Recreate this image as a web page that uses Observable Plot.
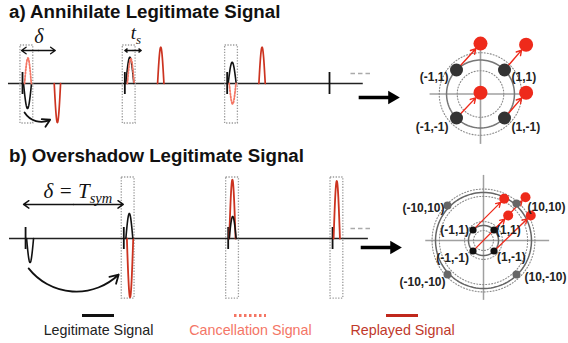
<!DOCTYPE html>
<html><head><meta charset="utf-8">
<script src="https://cdn.jsdelivr.net/npm/d3@7"></script>
<script src="https://cdn.jsdelivr.net/npm/@observablehq/plot@0.6"></script>
<style>
html,body{margin:0;padding:0;background:#fff;}
#root{position:relative;width:568px;height:343px;overflow:hidden;font-family:"Liberation Sans",Arial,Helvetica,sans-serif;}
.title{position:absolute;left:9px;font-weight:bold;font-size:18.7px;color:#111;white-space:nowrap;line-height:1;}
</style></head><body>
<div id="root">
<div class="title" style="top:2.5px">a) Annihilate Legitimate Signal</div>
<div class="title" style="top:146.5px">b) Overshadow Legitimate Signal</div>
</div>
<script>
// ---------------- data ----------------
const seriesNames = ["Legitimate Signal", "Cancellation Signal", "Replayed Signal"];

// a) Annihilate: symbol start times (in symbol periods) and half-sine pulse amplitudes
const symbolTimesA = [0, 1, 2, 3];
const legitPulsesA = [{t: 0.01, a: -1.0}, {t: 1.01, a: 1.05}, {t: 2.01, a: 0.85}];
const cancelPulsesA = [{t: 0.02, a: 1.02}, {t: 1.025, a: 1.0}, {t: 2.02, a: -0.82}];
const replayPulsesA = [{t: 0.31, a: -1.56}, {t: 1.32, a: 1.45}, {t: 2.31, a: 1.45}];
const boxedSymbolsA = [0, 1, 2];
const delayA = 0.32;      // δ
const symbolDurA = 0.16;  // t_s

// b) Overshadow
const symbolTimesB = [0.03, 0.99, 2.01, 3.03];
const legitPulsesB = [{t: 0.04, a: -0.98}, {t: 1.01, a: 1.02}, {t: 2.02, a: 0.9}];
const replayPulsesB = [{t: 1.02, a: -2.4}, {t: 2.02, a: 2.4}, {t: 3.04, a: 2.35}];
const boxedSymbolsB = [1, 2, 3];

// Constellations (I/Q as drawn, with their labels)
const legitPointsA = [
  {i: -1, q: 1, label: "(-1,1)"}, {i: 1, q: 1, label: "(1,1)"},
  {i: -1, q: -1, label: "(-1,-1)"}, {i: 1, q: -1, label: "(1,-1)"}
];
const replayPointsA = [{i: 0, q: 2.1}, {i: 1.9, q: 2.05}, {i: 0, q: 0.05}, {i: 1.9, q: 0.05}];
const legitPointsB = [
  {i: -1, q: 1, label: "(-1,1)"}, {i: 1, q: 1, label: "(1,1)"},
  {i: -1, q: -1, label: "(-1,-1)"}, {i: 1, q: -1, label: "(1,-1)"}
];
const highPointsB = [
  {i: -3.43, q: 3.33, label: "(-10,10)"}, {i: 3.14, q: 3.52, label: "(10,10)"},
  {i: -3.43, q: -3.24, label: "(-10,-10)"}, {i: 3.14, q: -3.24, label: "(10,-10)"}
];
const replayPointsB = [{i: 1.97, q: 3.97}, {i: 4.0, q: 4.12}, {i: 2.35, q: 2.38}, {i: 4.5, q: 2.38}];

// ---------------- styles ----------------
const C = {legit: "#111", cancel: "#f47563", replay: "#cc3320", box: "#9a9a9a",
           dotRed: "#ee2a1b", dotDark: "#333", grid: "#a0a0a0", ring: "#777"};
const legendStyle = {
  "Legitimate Signal": {stroke: "#111", dash: null, text: "#222"},
  "Cancellation Signal": {stroke: "#f47563", dash: "2.5,2.5", text: "#f47666"},
  "Replayed Signal": {stroke: "#c0281c", dash: null, text: "#c0392b"}
};
const SANS = "'Liberation Sans', Arial, Helvetica, sans-serif";
const SERIF = "'Liberation Serif', 'Times New Roman', serif";

// ---------------- helpers ----------------
const root = document.getElementById("root");
function render(opts) {
  const svg = Plot.plot({
    width: 568, height: 343, margin: 0,
    style: {background: "transparent", position: "absolute", left: "0px", top: "0px", overflow: "visible"},
    ...opts
  });
  root.appendChild(svg);
}
function pulsePoints(pulses, width, key) {
  return pulses.flatMap((p, j) => d3.range(25).map(k => ({
    id: key + j, t: p.t + width * k / 24, v: p.a * Math.sin(Math.PI * k / 24)
  })));
}
function circlePoints(radii, key) {
  return radii.flatMap((r, j) => d3.range(121).map(k => ({
    id: key + j, i: r * Math.cos(2 * Math.PI * k / 120), q: r * Math.sin(2 * Math.PI * k / 120)
  })));
}
function doubleArrow(t1, t2, v) {
  const m = (t1 + t2) / 2;
  return [
    Plot.arrow([{a: m, b: t1, v}], {x1: "a", x2: "b", y1: "v", y2: "v", stroke: "#111", strokeWidth: 1.4, headLength: 7, headAngle: 70}),
    Plot.arrow([{a: m, b: t2, v}], {x1: "a", x2: "b", y1: "v", y2: "v", stroke: "#111", strokeWidth: 1.4, headLength: 7, headAngle: 70})
  ];
}
function bigArrow(t1, t2, v) {
  return [
    Plot.ruleY([{v}], {y: "v", x1: () => t1, x2: () => t2 - 0.05, stroke: "#000", strokeWidth: 3.5}),
    Plot.dot([{t: t2, v}], {x: "t", y: "v", symbol: "triangle", rotate: 90, r: 5, fill: "#000", dx: -6})
  ];
}
function dashes(t1, t2, v) {
  return Plot.ruleY([{v}], {y: "v", x1: () => t1, x2: () => t2, stroke: "#aaa", strokeWidth: 1.6, strokeDasharray: "4.5,3"});
}
const waveX = {domain: [0, 3], range: [22, 329], axis: null};

// ---------------- a) waveform ----------------
render({
  x: waveX,
  y: {domain: [-1, 1], range: [108, 58], axis: null},
  marks: [
    Plot.ruleY([0], {x1: () => -0.137, x2: () => 3.33, stroke: "#222", strokeWidth: 1.3}),
    Plot.rect(boxedSymbolsA, {x1: k => symbolTimesA[k] - 0.02, x2: k => symbolTimesA[k] + 0.105,
      y1: () => -1.6, y2: () => 1.52, fill: "none", stroke: C.box, strokeWidth: 1.3, strokeDasharray: "1.3,1.5"}),
    Plot.ruleX(symbolTimesA, {x: d => d, y1: () => -0.44, y2: () => 0.44, stroke: C.legit, strokeWidth: 1.8}),
    Plot.line(pulsePoints(legitPulsesA, 0.078, "l"), {x: "t", y: "v", z: "id", stroke: C.legit, strokeWidth: 1.6}),
    Plot.line(pulsePoints(cancelPulsesA, 0.066, "c"), {x: "t", y: "v", z: "id", stroke: C.cancel, strokeWidth: 1.8, strokeDasharray: "1.6,1.6"}),
    Plot.line(pulsePoints(replayPulsesA, 0.062, "r"), {x: "t", y: "v", z: "id", stroke: C.replay, strokeWidth: 1.7}),
    ...doubleArrow(symbolTimesA[0] - 0.01, symbolTimesA[0] + delayA, 1.32),
    ...doubleArrow(symbolTimesA[1], symbolTimesA[1] + symbolDurA, 1.32),
    Plot.text(["δ"], {x: () => symbolTimesA[0] + delayA / 2, y: () => 1.64, text: d => d, fontFamily: SERIF, fontStyle: "italic", fontSize: 20, lineAnchor: "bottom", fill: "#111"}),
    Plot.text(["t"], {x: () => symbolTimesA[1] + symbolDurA / 2, y: () => 1.8, text: d => d, fontFamily: SERIF, fontStyle: "italic", fontSize: 19, lineAnchor: "bottom", textAnchor: "end", dx: 3, fill: "#111"}),
    Plot.text(["s"], {x: () => symbolTimesA[1] + symbolDurA / 2, y: () => 1.8, text: d => d, fontFamily: SERIF, fontStyle: "italic", fontSize: 13, lineAnchor: "bottom", textAnchor: "start", dx: 3, dy: 5, fill: "#111"}),
    Plot.arrow([{t1: 0.02, v1: -1.16, t2: 0.27, v2: -1.45}], {x1: "t1", y1: "v1", x2: "t2", y2: "v2", bend: -42, stroke: "#111", strokeWidth: 1.8, headLength: 7}),
    dashes(3.21, 3.42, 0.4),
    ...bigArrow(3.29, 3.67, -0.56)
  ]
});

// ---------------- b) waveform ----------------
render({
  x: waveX,
  y: {domain: [-1, 1], range: [262.5, 213.5], axis: null},
  marks: [
    Plot.ruleY([0], {x1: () => -0.127, x2: () => 3.38, stroke: "#222", strokeWidth: 1.3}),
    Plot.rect(boxedSymbolsB, {x1: k => symbolTimesB[k] - 0.02, x2: k => symbolTimesB[k] + 0.105,
      y1: () => -2.45, y2: () => 2.49, fill: "none", stroke: C.box, strokeWidth: 1.3, strokeDasharray: "1.3,1.5"}),
    Plot.ruleX(symbolTimesB, {x: d => d, y1: () => -0.45, y2: () => 0.45, stroke: C.legit, strokeWidth: 1.8}),
    Plot.line(pulsePoints(replayPulsesB, 0.062, "r"), {x: "t", y: "v", z: "id", stroke: C.replay, strokeWidth: 1.8}),
    Plot.line(pulsePoints(legitPulsesB, 0.068, "l"), {x: "t", y: "v", z: "id", stroke: C.legit, strokeWidth: 1.6}),
    ...doubleArrow(symbolTimesB[0] - 0.02, symbolTimesB[1] - 0.005, 1.39),
    Plot.text(["δ = T"], {x: () => (symbolTimesB[0] + symbolTimesB[1]) / 2, y: () => 1.67, text: d => d, fontFamily: SERIF, fontStyle: "italic", fontSize: 21, lineAnchor: "bottom", textAnchor: "end", dx: 15, fill: "#111"}),
    Plot.text(["sym"], {x: () => (symbolTimesB[0] + symbolTimesB[1]) / 2, y: () => 1.67, text: d => d, fontFamily: SERIF, fontStyle: "italic", fontSize: 14.5, lineAnchor: "bottom", textAnchor: "start", dx: 15, dy: 5, fill: "#111"}),
    Plot.arrow([{t1: 0.06, v1: -1.22, t2: 0.94, v2: -1.47}], {x1: "t1", y1: "v1", x2: "t2", y2: "v2", bend: -48, stroke: "#111", strokeWidth: 1.8, headLength: 8}),
    dashes(3.21, 3.42, 0.41),
    ...bigArrow(3.31, 3.69, -0.37)
  ]
});

// ---------------- a) constellation ----------------
const labelOffA = {"(-1,1)": ["end", -8, 7.5], "(1,1)": ["start", 7, 7.5], "(-1,-1)": ["end", -8, 9.5], "(1,-1)": ["start", 7, 9.5]};
render({
  x: {domain: [-1, 1], range: [456, 504], axis: null},
  y: {domain: [-1, 1], range: [117.5, 69.5], axis: null},
  marks: [
    Plot.ruleY([0], {x1: () => -2.1, x2: () => 2.2, stroke: C.grid, strokeWidth: 1.6}),
    Plot.ruleX([0], {y1: () => -2.1, y2: () => 2.12, stroke: C.grid, strokeWidth: 1.6}),
    Plot.line(circlePoints([0.97, 1.72], "d"), {x: "i", y: "q", z: "id", stroke: "#888", strokeWidth: 1.1, strokeDasharray: "1,2"}),
    Plot.line(circlePoints([Math.SQRT2], "s"), {x: "i", y: "q", z: "id", stroke: C.ring, strokeWidth: 1.5}),
    Plot.arrow(legitPointsA.map((p, k) => ({...p, i2: replayPointsA[k].i, q2: replayPointsA[k].q})),
      {x1: "i", y1: "q", x2: "i2", y2: "q2", stroke: C.dotRed, strokeWidth: 1.4, headLength: 6, insetStart: 6, insetEnd: 7}),
    Plot.dot(legitPointsA, {x: "i", y: "q", r: 6.5, fill: C.dotDark}),
    Plot.dot(replayPointsA, {x: "i", y: "q", r: 7, fill: C.dotRed}),
    ...legitPointsA.map(p => Plot.text([p], {x: "i", y: "q", text: "label", textAnchor: labelOffA[p.label][0],
      dx: labelOffA[p.label][1], dy: labelOffA[p.label][2], fontFamily: SANS, fontWeight: "bold", fontSize: 12, fill: "#222"}))
  ]
});

// ---------------- b) constellation ----------------
const labelOffB = {
  "(-10,10)": ["end", -3, 3], "(10,10)": ["start", 11, 4], "(-1,1)": ["end", -4, 0], "(1,1)": ["start", 2, 0],
  "(-1,-1)": ["end", -4, 7], "(1,-1)": ["start", 3, 6], "(-10,-10)": ["end", -2, 8], "(10,-10)": ["start", 8, 3]
};
render({
  x: {domain: [-1, 1], range: [472.5, 493.5], axis: null},
  y: {domain: [-1, 1], range: [250.5, 229.5], axis: null},
  marks: [
    Plot.ruleY([0], {x1: () => -5.5, x2: () => 6.3, stroke: C.grid, strokeWidth: 1.5}),
    Plot.ruleX([0], {y1: () => -5.7, y2: () => 6.2, stroke: C.grid, strokeWidth: 1.5}),
    Plot.line(circlePoints([0.95, 1.8, 4.2, 4.9], "d"), {x: "i", y: "q", z: "id", stroke: "#888", strokeWidth: 1.1, strokeDasharray: "1,2"}),
    Plot.line(circlePoints([1.43, 4.57], "s"), {x: "i", y: "q", z: "id", stroke: "#666", strokeWidth: 1.5}),
    Plot.arrow(legitPointsB.map((p, k) => ({...p, i2: replayPointsB[k].i, q2: replayPointsB[k].q})),
      {x1: "i", y1: "q", x2: "i2", y2: "q2", stroke: C.dotRed, strokeWidth: 1.3, headLength: 6, insetStart: 3, insetEnd: 5}),
    Plot.dot(legitPointsB, {x: "i", y: "q", r: 3.6, fill: "#111"}),
    Plot.dot(highPointsB, {x: "i", y: "q", r: 4, fill: "#666"}),
    Plot.dot(replayPointsB, {x: "i", y: "q", r: 5, fill: C.dotRed}),
    ...[...legitPointsB, ...highPointsB].map(p => Plot.text([p], {x: "i", y: "q", text: "label", textAnchor: labelOffB[p.label][0],
      dx: labelOffB[p.label][1], dy: labelOffB[p.label][2], fontFamily: SANS, fontWeight: "bold", fontSize: 12, fill: "#222"}))
  ]
});

// ---------------- legend ----------------
render({
  x: {type: "band", domain: seriesNames, range: [21, 478.5], padding: 0, axis: null},
  y: {domain: [0, 1], range: [315, 330], axis: null},
  marks: [
    ...seriesNames.map(n => Plot.tickY([n], {x: d => d, y: () => 0, stroke: legendStyle[n].stroke, strokeWidth: 3,
      strokeDasharray: legendStyle[n].dash, insetLeft: 60, insetRight: 60})),
    ...seriesNames.map(n => Plot.text([n], {x: d => d, y: () => 1, text: d => d, fill: legendStyle[n].text,
      fontSize: 14.3, fontFamily: SANS}))
  ]
});
</script>
</body></html>
